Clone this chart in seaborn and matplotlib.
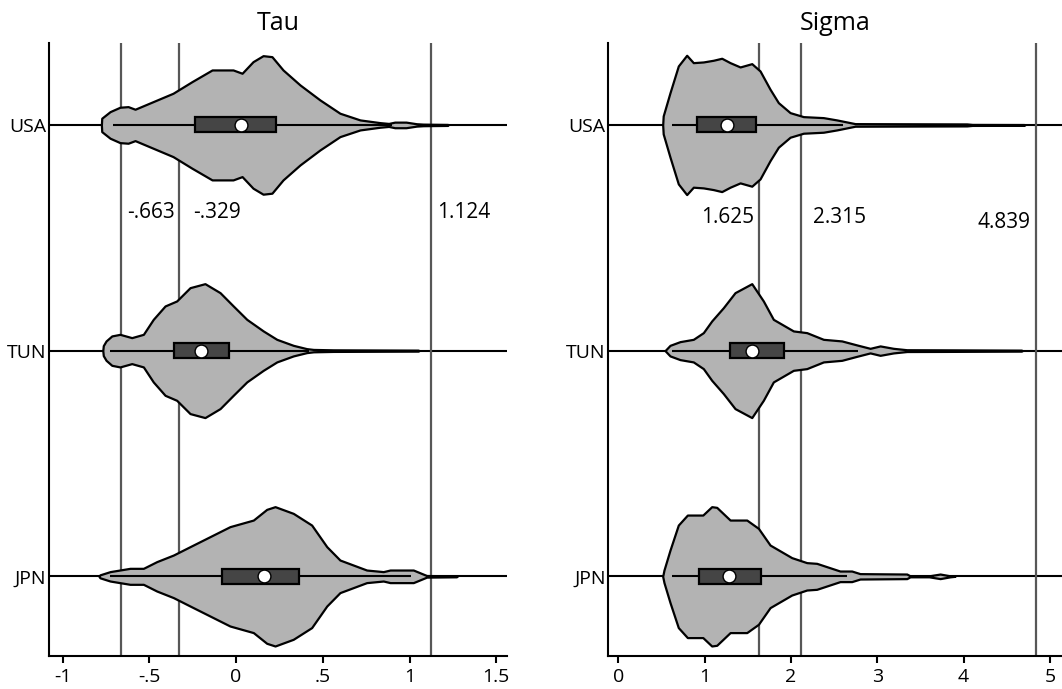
import numpy as np
import matplotlib
matplotlib.use("Agg")
import matplotlib.pyplot as plt
import seaborn as sns

# categories (top to bottom)
countries = ["USA", "TUN", "JPN"]
positions = [0, 1, 2]

# violin outlines: value grid and half-width (relative, max ~70)
tau_usa_x = [-0.776, -0.774, -0.726, -0.669, -0.622, -0.582, -0.478, -0.363, -0.254, -0.138,
             -0.017, 0.035, 0.098, 0.156, 0.207, 0.271, 0.369, 0.484, 0.599, 0.715,
             0.830, 0.880, 0.915, 0.980, 1.040, 1.078, 1.118, 1.220, 1.222]
tau_usa_d = [0, 6.7, 13.3, 17.7, 18.3, 15.7, 23.3, 31.7, 43.3, 55,
             55, 51.7, 63.3, 69.3, 68.3, 55, 40, 25, 11.7, 5,
             2.3, 1.5, 2.8, 2.8, 1.2, 0.8, 0.7, 0.5, 0]
tau_tun_x = [-0.768, -0.765, -0.749, -0.716, -0.669, -0.601, -0.534, -0.477, -0.409, -0.342,
             -0.265, -0.179, -0.092, -0.016, 0.062, 0.157, 0.235, 0.330, 0.407, 0.446,
             0.560, 1.050, 1.055]
tau_tun_d = [0, 5, 9.7, 14.7, 16.3, 13, 16.3, 31.3, 44.7, 49.7,
             63, 67, 58, 44.7, 31.3, 19.7, 11.3, 5.3, 2, 1.2,
             0.8, 0.5, 0]
tau_jpn_x = [-0.790, -0.784, -0.726, -0.611, -0.534, -0.457, -0.361, -0.265, -0.150, -0.035,
             0.100, 0.177, 0.225, 0.330, 0.436, 0.523, 0.599, 0.753, 0.849, 0.888,
             1.022, 1.099, 1.270, 1.275]
tau_jpn_d = [0, 1.5, 4.7, 8, 8, 14.7, 21.3, 29.7, 39.7, 49.7,
             56.3, 67, 69.7, 63, 51.3, 29.7, 16.3, 6.3, 4.7, 6.3,
             6.3, 0.8, 0.5, 0]

sig_usa_x = [0.514, 0.520, 0.599, 0.695, 0.792, 0.869, 0.985, 1.101, 1.198, 1.295,
             1.411, 1.546, 1.642, 1.758, 1.854, 1.990, 2.144, 2.376, 2.531, 2.743,
             4.037, 4.100, 4.700, 4.710]
sig_usa_d = [0, 9, 32.3, 59, 69.7, 62.3, 63, 64.7, 66.7, 62.3,
             58, 61.3, 54, 35.7, 22.3, 12.3, 8.3, 7.3, 5, 1.3,
             1.0, 0.5, 0.4, 0]
sig_tun_x = [0.541, 0.599, 0.715, 0.869, 0.985, 1.082, 1.217, 1.352, 1.546, 1.680,
             1.796, 2.028, 2.183, 2.376, 2.589, 2.763, 2.917, 3.033, 3.187, 3.342,
             3.766, 4.670, 4.680]
sig_tun_d = [0, 5.3, 9, 11.3, 18, 29.7, 43, 58, 67, 49.7,
             31.3, 19.7, 18, 11.3, 9.7, 5.7, 2.3, 4.7, 2.3, 0.9,
             0.8, 0.5, 0]
sig_jpn_x = [0.514, 0.529, 0.599, 0.695, 0.800, 0.979, 1.082, 1.140, 1.295, 1.488,
             1.623, 1.758, 2.009, 2.183, 2.298, 2.568, 2.704, 2.800, 3.342, 3.380,
             3.600, 3.728, 3.844, 3.900]
sig_jpn_d = [0, 6.3, 26.3, 51.3, 61.3, 61.3, 69.7, 69, 56.3, 56.3,
             48, 31.3, 18.7, 13.7, 13, 5.3, 5.3, 2.7, 2.3, 0.5,
             0.5, 2.3, 0.5, 0]

# box summaries: q1, median, q3, lower / upper adjacent
tau_q1 = [-0.236, -0.356, -0.082]
tau_med = [0.029, -0.202, 0.163]
tau_q3 = [0.231, -0.040, 0.365]
tau_lo = [-0.707, -0.726, -0.726]
tau_hi = [0.90, 0.42, 1.01]

sig_q1 = [0.908, 1.295, 0.935]
sig_med = [1.256, 1.553, 1.279]
sig_q3 = [1.595, 1.924, 1.653]
sig_lo = [0.618, 0.618, 0.618]
sig_hi = [2.60, 2.78, 2.65]

# reference lines and their labels
tau_lines = [-0.663, -0.329, 1.124]
tau_labels = ["-.663", "-.329", "1.124"]
sig_lines = [1.625, 2.12, 4.839]
sig_labels = ["1.625", "2.315", "4.839"]

tau_ticks = [-1, -0.5, 0, 0.5, 1, 1.5]
tau_ticklabels = ["-1", "-.5", "0", ".5", "1", "1.5"]
sig_ticks = [0, 1, 2, 3, 4, 5]
sig_ticklabels = ["0", "1", "2", "3", "4", "5"]

WIDTH_SCALE = 0.31 / 70
BOX_H = 0.066


def draw_panel(ax, title, shapes, q1, med, q3, lo, hi, lines, ticks, ticklabels):
    for p in positions:
        ax.axhline(p, color="black", lw=1.5, zorder=1)
    for v in lines:
        ax.axvline(v, color="#575757", lw=1.6, zorder=1)

    for p, (xs, ds) in zip(positions, shapes):
        xs = np.asarray(xs)
        half = np.asarray(ds) * WIDTH_SCALE
        ax.fill_between(xs, p - half, p + half, facecolor="#b3b3b3",
                        edgecolor="black", lw=1.6, zorder=2)

    ax.hlines(positions, lo, hi, color="black", lw=1.5, zorder=3)
    ax.barh(positions, np.array(q3) - np.array(q1), left=q1, height=BOX_H,
            color="#454545", edgecolor="black", lw=1.6, zorder=4)
    sns.scatterplot(x=med, y=positions, ax=ax, color="white", edgecolor="black",
                    s=85, linewidth=1.0, zorder=5, legend=False)

    ax.set_yticks(positions)
    ax.set_yticklabels(countries)
    ax.set_xticks(ticks)
    ax.set_xticklabels(ticklabels)
    ax.set_title(title, fontsize=18, pad=9, color="black")
    ax.set_xlabel("")
    ax.set_ylabel("")
    sns.despine(ax=ax)
    for s in ("left", "bottom"):
        ax.spines[s].set_linewidth(1.5)
        ax.spines[s].set_color("black")
    ax.tick_params(axis="y", length=0, pad=2, labelsize=14, labelcolor="black")
    ax.tick_params(axis="x", length=5, width=1.5, pad=4, labelsize=14,
                   direction="out", color="black", labelcolor="black")


sns.set_theme(style="ticks")
plt.rcParams["font.family"] = ["Open Sans", "DejaVu Sans"]
plt.rcParams["text.color"] = "black"

fig = plt.figure(figsize=(10.62, 6.89), dpi=100)
ax1 = fig.add_axes([49 / 1062, 33 / 689, 458 / 1062, 613 / 689])
ax2 = fig.add_axes([608.3 / 1062, 33 / 689, (1062 - 608.3) / 1062, 613 / 689])

draw_panel(ax1, "Tau",
           [(tau_usa_x, tau_usa_d), (tau_tun_x, tau_tun_d), (tau_jpn_x, tau_jpn_d)],
           tau_q1, tau_med, tau_q3, tau_lo, tau_hi, tau_lines, tau_ticks, tau_ticklabels)
draw_panel(ax2, "Sigma",
           [(sig_usa_x, sig_usa_d), (sig_tun_x, sig_tun_d), (sig_jpn_x, sig_jpn_d)],
           sig_q1, sig_med, sig_q3, sig_lo, sig_hi, sig_lines, sig_ticks, sig_ticklabels)

ax1.set_xlim(-1.078, 1.562)
ax2.set_xlim(-0.116, 5.14)
for ax in (ax1, ax2):
    ax.set_ylim(2.353, -0.363)

# value labels next to the reference lines
ax1.text(-0.625, 0.39, tau_labels[0], fontsize=15, ha="left", va="center")
ax1.text(-0.250, 0.39, tau_labels[1], fontsize=15, ha="left", va="center")
ax1.text(1.160, 0.39, tau_labels[2], fontsize=15, ha="left", va="center")
ax2.text(1.572, 0.41, sig_labels[0], fontsize=15, ha="right", va="center")
ax2.text(2.256, 0.41, sig_labels[1], fontsize=15, ha="left", va="center")
ax2.text(4.771, 0.434, sig_labels[2], fontsize=15, ha="right", va="center")

fig.savefig("out.png", dpi=100)
plt.close(fig)
